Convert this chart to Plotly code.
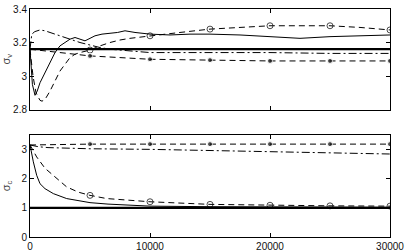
import plotly.graph_objects as go

# ---------------- data ----------------
true_v = 3.16
true_c = 1.0

# sigma_v panel
v_solid_x = [0, 200, 417, 600, 833, 1250, 1667, 2083, 2500, 2917, 3333, 3750, 4167, 4583, 5000, 5417, 6000, 6667, 7300, 7917, 8750, 10000, 11667, 13333, 15000, 17500, 20000, 22500, 25000, 27500, 30000]
v_solid_y = [3.16, 2.95, 2.885, 2.91, 2.96, 3.02, 3.08, 3.14, 3.18, 3.20, 3.22, 3.23, 3.22, 3.21, 3.225, 3.24, 3.25, 3.255, 3.26, 3.27, 3.26, 3.25, 3.245, 3.25, 3.25, 3.245, 3.235, 3.225, 3.235, 3.24, 3.245]

v_open_x = [0, 250, 500, 833, 1000, 1250, 1667, 2083, 2500, 2917, 3333, 3750, 4167, 5000, 5833, 6667, 7500, 8333, 10000, 12500, 15000, 17500, 20000, 22500, 25000, 27500, 30000]
v_open_y = [3.16, 3.0, 2.9, 2.855, 2.85, 2.86, 2.91, 2.97, 3.03, 3.07, 3.11, 3.13, 3.14, 3.155, 3.18, 3.20, 3.215, 3.225, 3.24, 3.26, 3.28, 3.29, 3.30, 3.30, 3.30, 3.29, 3.275]

v_dot_x = [0, 5000, 10000, 15000, 20000, 25000, 30000]
v_dot_y = [3.16, 3.12, 3.10, 3.095, 3.09, 3.09, 3.09]

v_dd_x = [0, 150, 400, 833, 1250, 1667, 2500, 3333, 4167, 5000, 5833, 6667, 7500, 8750, 10000, 15000, 20000, 25000, 30000]
v_dd_y = [3.16, 3.25, 3.265, 3.275, 3.27, 3.26, 3.24, 3.22, 3.20, 3.185, 3.17, 3.16, 3.155, 3.15, 3.14, 3.14, 3.14, 3.135, 3.135]

# sigma_c panel
c_solid_x = [0, 100, 278, 556, 833, 1250, 1944, 3056, 4000, 5000, 6500, 8611, 10000, 15000, 20000, 25000, 30000]
c_solid_y = [3.16, 2.9, 2.58, 2.12, 1.83, 1.66, 1.49, 1.32, 1.24, 1.18, 1.13, 1.09, 1.06, 1.04, 1.03, 1.02, 1.02]

c_open_x = [0, 556, 1250, 2222, 3056, 4028, 5000, 6389, 8611, 10000, 15000, 20000, 25000, 30000]
c_open_y = [3.16, 2.75, 2.36, 2.0, 1.72, 1.54, 1.43, 1.32, 1.24, 1.21, 1.12, 1.09, 1.07, 1.06]

c_dot_x = [0, 5000, 10000, 15000, 20000, 25000, 30000]
c_dot_y = [3.16, 3.19, 3.19, 3.19, 3.19, 3.19, 3.19]

c_dd_x = [0, 700, 1500, 3333, 5000, 10000, 15000, 20000, 25000, 30000]
c_dd_y = [3.16, 3.10, 3.07, 3.04, 3.03, 3.01, 2.98, 2.93, 2.89, 2.85]

x_range = [0, 30000]
x_ticks = [0, 10000, 20000, 30000]
x_ticktext = ["0", "10000", "20000", "30000"]
v_ticks = [2.8, 3.0, 3.2, 3.4]
v_ticktext = ["2.8", "3", "3.2", "3.4"]
c_ticks = [0, 1, 2, 3]
c_ticktext = ["0", "1", "2", "3"]

MARK_EVERY = 5000


def msizes(xs, size):
    return [size if (x > 0 and x % MARK_EVERY == 0) else 0 for x in xs]


fig = go.Figure()


def add_panel(yaxis, xaxis, truth, solid, opened, dotted, dd):
    sx, sy = solid
    ox, oy = opened
    dx, dy = dotted
    ddx, ddy = dd
    fig.add_trace(go.Scatter(x=x_range, y=[truth, truth], mode="lines",
                             line=dict(color="black", width=2.2),
                             xaxis=xaxis, yaxis=yaxis, showlegend=False))
    fig.add_trace(go.Scatter(x=ddx, y=ddy, mode="lines",
                             line=dict(color="black", width=1, dash="8px,3px,2px,3px"),
                             xaxis=xaxis, yaxis=yaxis, showlegend=False))
    fig.add_trace(go.Scatter(x=sx, y=sy, mode="lines",
                             line=dict(color="black", width=1),
                             xaxis=xaxis, yaxis=yaxis, showlegend=False))
    fig.add_trace(go.Scatter(x=ox, y=oy, mode="lines+markers",
                             line=dict(color="black", width=1, dash="6px,4px"),
                             marker=dict(symbol="circle-open", size=msizes(ox, 6),
                                         color="black", line=dict(width=1)),
                             xaxis=xaxis, yaxis=yaxis, showlegend=False))
    fig.add_trace(go.Scatter(x=dx, y=dy, mode="lines+markers",
                             line=dict(color="black", width=1, dash="6px,4px"),
                             marker=dict(symbol="circle", size=msizes(dx, 5),
                                         color="black"),
                             xaxis=xaxis, yaxis=yaxis, showlegend=False))


add_panel("y", "x", true_v, (v_solid_x, v_solid_y), (v_open_x, v_open_y),
          (v_dot_x, v_dot_y), (v_dd_x, v_dd_y))
add_panel("y2", "x2", true_c, (c_solid_x, c_solid_y), (c_open_x, c_open_y),
          (c_dot_x, c_dot_y), (c_dd_x, c_dd_y))

font = dict(family="Liberation Sans, Arial, Helvetica, sans-serif", size=10, color="#111")
axis_common = dict(showline=True, linecolor="black", linewidth=1, mirror="ticks",
                   ticks="inside", ticklen=4, tickcolor="black", showgrid=False,
                   zeroline=False, tickfont=font, automargin=False)

fig.update_layout(
    width=407, height=252,
    margin=dict(l=30, r=17, t=9, b=15),
    paper_bgcolor="white", plot_bgcolor="white",
    font=font,
    xaxis=dict(domain=[0, 1], range=x_range, tickvals=x_ticks, showticklabels=False,
               anchor="y", **axis_common),
    yaxis=dict(domain=[0.559, 1], range=[2.8, 3.4], tickvals=v_ticks, ticktext=v_ticktext,
               anchor="x", title=dict(text="σ<sub>v</sub>", standoff=2,
                                       font=dict(size=11, color="#444")),
               **axis_common),
    xaxis2=dict(domain=[0, 1], range=x_range, tickvals=x_ticks, ticktext=x_ticktext,
                anchor="y2", ticklabelstandoff=0, **axis_common),
    yaxis2=dict(domain=[0, 0.447], range=[0, 3.5], tickvals=c_ticks, ticktext=c_ticktext,
                anchor="x2", title=dict(text="σ<sub>c</sub>", standoff=8,
                                         font=dict(size=11, color="#444")),
                **axis_common),
)

fig.write_html(
    "out.html",
    config={"displayModeBar": False},
    post_script="document.body.style.margin='0';"
                "document.documentElement.style.overflow='hidden';"
                "window.scrollTo(0,0);",
)
